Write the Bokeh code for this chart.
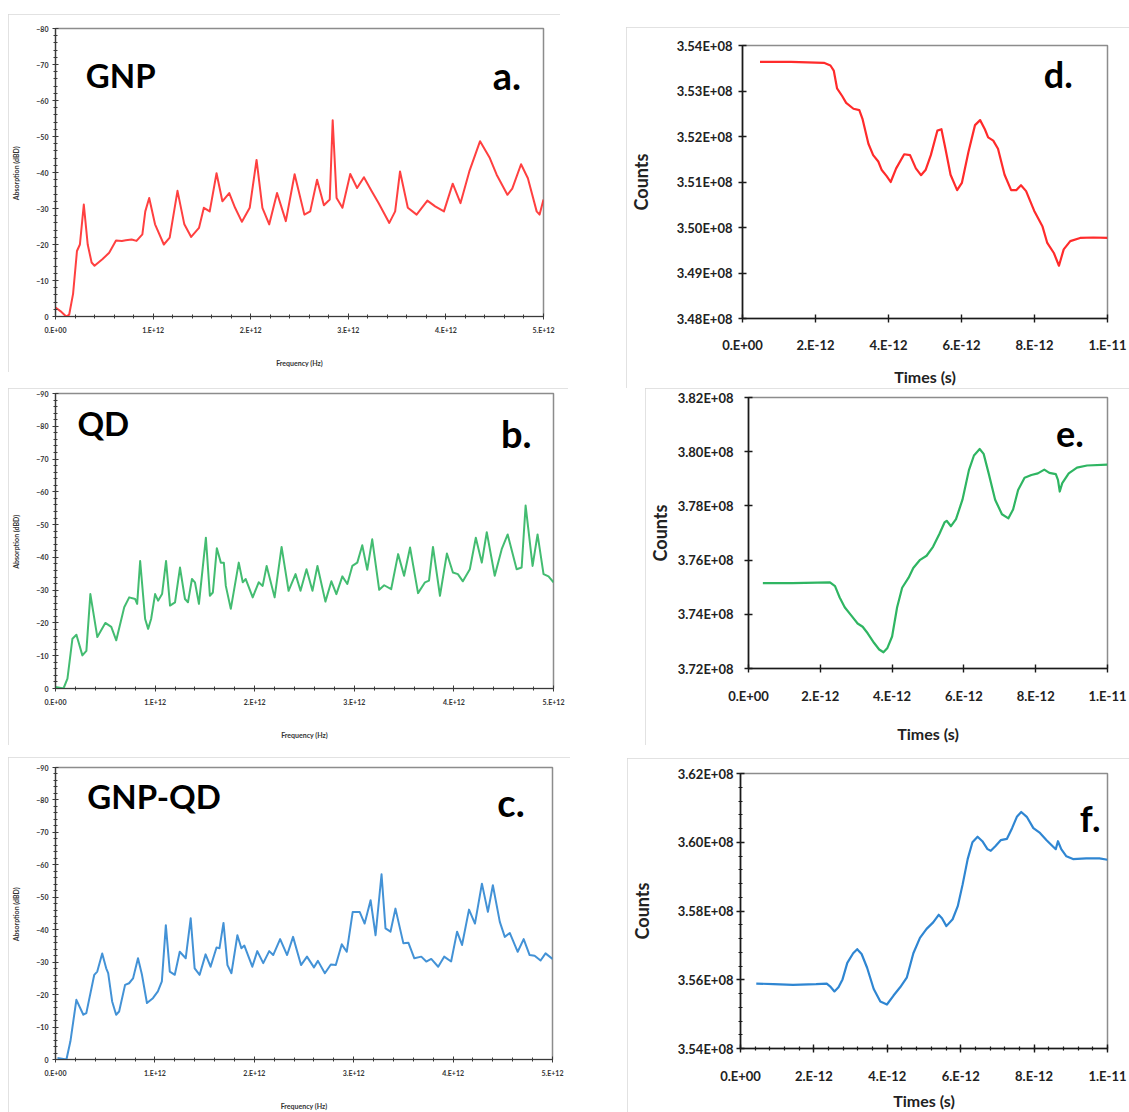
import numpy as np
from bokeh.plotting import figure
from bokeh.layouts import row, column
from bokeh.models import FixedTicker, CustomJSTickFormatter, Range1d, Label, Spacer
from bokeh.embed import file_html
from bokeh.resources import INLINE

# ---------------- absorption spectra (frequency in THz, absorption in dBD) ----------------
gnp_freq_thz = [0.00, 0.05, 0.11, 0.14, 0.18, 0.22, 0.25, 0.29, 0.33, 0.37, 0.40, 0.48, 0.55, 0.62,
                0.68, 0.72, 0.78, 0.83, 0.89, 0.92, 0.96, 1.02, 1.11, 1.17, 1.25, 1.32, 1.39, 1.47,
                1.52, 1.58, 1.65, 1.71, 1.78, 1.84, 1.91, 1.99, 2.06, 2.12, 2.19, 2.27, 2.36, 2.45,
                2.55, 2.61, 2.68, 2.75, 2.81, 2.84, 2.88, 2.94, 3.02, 3.09, 3.16, 3.24, 3.31, 3.42,
                3.48, 3.53, 3.61, 3.70, 3.81, 3.89, 3.98, 4.07, 4.15, 4.24, 4.35, 4.45, 4.52, 4.63,
                4.68, 4.77, 4.84, 4.93, 4.96, 5.00]
gnp_absorption = [-2.5, -1.5, 0.0, -0.5, -6.3, -18.2, -20.0, -31.1, -20.0, -15.0, -14.1, -15.9, -17.7, -21.1,
                  -21.0, -21.2, -21.4, -21.0, -22.8, -29.2, -32.9, -25.6, -20.0, -21.9, -34.9, -25.6, -22.1, -24.6,
                  -30.2, -29.2, -39.8, -32.0, -34.3, -30.2, -26.3, -30.2, -43.5, -30.2, -25.6, -34.3, -26.5, -39.5,
                  -28.3, -29.2, -38.0, -30.9, -32.5, -54.5, -32.9, -30.2, -39.6, -35.7, -38.7, -34.8, -31.5, -26.0,
                  -29.2, -40.3, -30.2, -28.3, -32.2, -30.6, -29.2, -36.9, -31.5, -40.3, -48.7, -44.0, -39.4, -33.8,
                  -35.5, -42.3, -38.4, -29.2, -28.3, -32.5]

qd_freq_thz = [0.00, 0.08, 0.12, 0.17, 0.21, 0.27, 0.31, 0.35, 0.42, 0.50, 0.56, 0.61, 0.69, 0.74, 0.80,
               0.82, 0.85, 0.90, 0.93, 0.96, 1.00, 1.03, 1.07, 1.11, 1.15, 1.20, 1.25, 1.30, 1.33, 1.37,
               1.40, 1.44, 1.51, 1.55, 1.58, 1.62, 1.66, 1.69, 1.71, 1.76, 1.84, 1.88, 1.91, 1.98, 2.04,
               2.08, 2.12, 2.20, 2.27, 2.34, 2.41, 2.46, 2.52, 2.58, 2.63, 2.71, 2.77, 2.82, 2.88, 2.93,
               2.98, 3.03, 3.08, 3.13, 3.18, 3.25, 3.30, 3.37, 3.44, 3.50, 3.56, 3.64, 3.71, 3.75, 3.79,
               3.86, 3.93, 3.99, 4.04, 4.09, 4.16, 4.22, 4.28, 4.33, 4.41, 4.48, 4.54, 4.63, 4.68, 4.72,
               4.79, 4.84, 4.90, 4.95, 5.00]
qd_absorption = [-0.5, 0.0, -3.0, -15.2, -16.4, -10.1, -11.5, -28.8, -15.7, -20.0, -18.8, -14.7, -24.8, -27.8, -27.3,
                 -25.8, -38.9, -21.2, -18.2, -21.2, -28.8, -26.8, -28.8, -38.9, -25.3, -26.3, -36.9, -27.3, -26.3, -33.4,
                 -32.4, -25.8, -46.0, -28.3, -29.3, -42.8, -38.4, -38.4, -31.3, -24.3, -38.4, -32.4, -33.4, -27.8, -32.4,
                 -31.3, -37.4, -27.8, -43.2, -29.8, -34.9, -29.8, -36.4, -29.8, -37.4, -26.5, -32.7, -28.8, -34.2, -31.9,
                 -37.4, -38.4, -43.7, -36.2, -45.5, -30.1, -31.5, -30.3, -41.0, -34.4, -43.0, -29.1, -32.4, -32.9, -43.2,
                 -28.3, -41.2, -35.4, -34.9, -32.7, -36.4, -46.0, -38.4, -47.7, -34.4, -42.5, -47.0, -36.4, -36.9, -55.8,
                 -37.4, -47.0, -34.9, -34.2, -32.4]

gnpqd_freq_thz = [0.02, 0.11, 0.15, 0.21, 0.28, 0.31, 0.39, 0.42, 0.47, 0.51, 0.53, 0.57, 0.61, 0.64, 0.70,
                  0.74, 0.78, 0.83, 0.87, 0.92, 0.98, 1.03, 1.07, 1.11, 1.15, 1.20, 1.25, 1.31, 1.36, 1.40,
                  1.45, 1.51, 1.56, 1.62, 1.65, 1.69, 1.73, 1.77, 1.83, 1.87, 1.90, 1.98, 2.03, 2.09, 2.15,
                  2.19, 2.26, 2.33, 2.39, 2.47, 2.53, 2.60, 2.64, 2.71, 2.77, 2.82, 2.88, 2.93, 2.99, 3.06,
                  3.11, 3.17, 3.22, 3.28, 3.32, 3.37, 3.42, 3.50, 3.55, 3.61, 3.68, 3.73, 3.78, 3.85, 3.91,
                  3.98, 4.04, 4.09, 4.16, 4.22, 4.29, 4.35, 4.40, 4.47, 4.52, 4.57, 4.65, 4.71, 4.77, 4.82,
                  4.88, 4.93, 5.00]
gnpqd_absorption = [-0.5, 0.0, -5.6, -18.4, -13.8, -14.3, -26.1, -27.1, -32.7, -28.1, -26.6, -17.9, -13.8, -14.8, -23.0,
                    -23.5, -25.0, -31.2, -26.1, -17.4, -18.9, -21.0, -24.1, -41.4, -27.1, -26.1, -33.2, -31.2, -43.5, -28.1,
                    -26.1, -32.4, -28.6, -34.5, -34.3, -42.1, -29.1, -26.6, -38.3, -34.3, -35.1, -28.6, -33.4, -29.7, -33.4,
                    -32.2, -37.1, -32.2, -37.8, -29.1, -31.7, -28.4, -30.4, -26.6, -29.3, -29.1, -35.5, -33.2, -45.5, -45.5,
                    -41.9, -49.1, -38.3, -57.1, -40.4, -39.4, -46.5, -35.8, -36.0, -31.2, -31.7, -30.2, -31.0, -28.6, -31.7,
                    -30.2, -39.4, -35.3, -46.2, -41.9, -54.2, -45.5, -53.7, -42.4, -37.8, -39.0, -33.2, -37.1, -32.2, -32.0,
                    -30.5, -32.7, -31.0]

# ---------------- time traces (time in ps, counts in millions) ----------------
gnp_time_ps = [0.48, 1.33, 2.23, 2.41, 2.50, 2.59, 2.73, 2.84, 3.04, 3.20, 3.29, 3.45, 3.58, 3.72, 3.81, 3.95,
               4.06, 4.21, 4.43, 4.59, 4.75, 4.89, 5.02, 5.16, 5.34, 5.45, 5.56, 5.70, 5.88, 6.01, 6.19, 6.37,
               6.51, 6.64, 6.73, 6.87, 7.00, 7.18, 7.36, 7.50, 7.63, 7.77, 7.99, 8.22, 8.35, 8.53, 8.67, 8.80,
               8.98, 9.25, 9.61, 10.0]
gnp_counts_m = [353.64, 353.64, 353.62, 353.56, 353.45, 353.06, 352.89, 352.74, 352.61, 352.58, 352.38, 351.84,
                351.59, 351.45, 351.27, 351.13, 351.00, 351.30, 351.61, 351.59, 351.30, 351.15, 351.27, 351.59,
                352.13, 352.16, 351.73, 351.16, 350.82, 350.98, 351.66, 352.25, 352.36, 352.16, 351.98, 351.91,
                351.73, 351.16, 350.82, 350.82, 350.93, 350.80, 350.37, 350.02, 349.66, 349.44, 349.16, 349.52,
                349.70, 349.77, 349.78, 349.77]

qd_time_ps = [0.40, 1.22, 2.27, 2.41, 2.54, 2.68, 2.86, 3.04, 3.18, 3.32, 3.50, 3.64, 3.76, 3.87, 4.00, 4.14,
              4.28, 4.46, 4.59, 4.78, 4.96, 5.14, 5.32, 5.46, 5.52, 5.64, 5.78, 5.96, 6.14, 6.28, 6.44, 6.55,
              6.69, 6.87, 7.06, 7.24, 7.37, 7.51, 7.69, 7.88, 8.06, 8.24, 8.38, 8.56, 8.62, 8.67, 8.74, 8.92,
              9.15, 9.43, 10.0]
qd_counts_m = [375.15, 375.15, 375.18, 375.04, 374.62, 374.26, 373.96, 373.66, 373.54, 373.30, 372.94, 372.70,
               372.60, 372.76, 373.18, 374.26, 374.98, 375.35, 375.71, 376.01, 376.16, 376.49, 376.97, 377.39,
               377.45, 377.25, 377.51, 378.23, 379.32, 379.86, 380.10, 379.92, 379.20, 378.23, 377.69, 377.54,
               377.87, 378.59, 379.04, 379.14, 379.20, 379.34, 379.22, 379.17, 378.96, 378.53, 378.84, 379.20,
               379.41, 379.49, 379.52]

gnpqd_time_ps = [0.43, 0.90, 1.43, 2.06, 2.35, 2.44, 2.56, 2.67, 2.78, 2.91, 3.07, 3.18, 3.30, 3.45, 3.63, 3.81,
                 3.99, 4.17, 4.35, 4.53, 4.71, 4.89, 5.07, 5.25, 5.40, 5.49, 5.61, 5.78, 5.92, 6.05, 6.19, 6.32,
                 6.46, 6.59, 6.73, 6.82, 6.95, 7.09, 7.26, 7.40, 7.53, 7.65, 7.80, 7.98, 8.16, 8.34, 8.52, 8.59,
                 8.65, 8.74, 8.88, 9.06, 9.42, 9.78, 10.0]
gnpqd_counts_m = [355.89, 355.87, 355.85, 355.87, 355.89, 355.81, 355.66, 355.78, 356.01, 356.49, 356.77, 356.89,
                  356.75, 356.35, 355.73, 355.37, 355.28, 355.54, 355.78, 356.06, 356.77, 357.22, 357.48, 357.67,
                  357.89, 357.79, 357.56, 357.76, 358.14, 358.76, 359.51, 360.00, 360.16, 360.03, 359.80, 359.75,
                  359.89, 360.06, 360.10, 360.41, 360.74, 360.88, 360.74, 360.41, 360.27, 360.06, 359.87, 359.80,
                  360.03, 359.80, 359.59, 359.51, 359.53, 359.53, 359.49]

RED = "#ff2b2b"
GREEN = "#2fb562"
BLUE = "#2f86d2"
FONT = "Lato"


def sci_fmt(digits):
    # Excel-like scientific labels: 1.E+12, 3.54E+08
    return CustomJSTickFormatter(args=dict(d=digits), code="""
const parts = tick.toExponential(d).toUpperCase().split("E");
const e = parseInt(parts[1], 10);
const mant = d === 0 ? parts[0] + "." : parts[0];
return mant + "E" + (e < 0 ? "-" : "+") + String(Math.abs(e)).padStart(2, "0");
""")


def spectrum_panel(freq_thz, absorption, color, size, borders, y_floor,
                   name, name_xy, letter, letter_xy):
    w, h = size
    bl, br, bt, bb = borders
    p = figure(width=w, height=h, output_backend="svg", toolbar_location=None,
               x_range=Range1d(0, 5e12), y_range=Range1d(0, y_floor),
               min_border_left=bl, min_border_right=br, min_border_top=bt, min_border_bottom=bb,
               background_fill_color="white", border_fill_color="white")
    p.styles = {"outline": "1px solid #d9d9d9", "outline-offset": "-1px"}
    p.grid.visible = False
    p.outline_line_color = "#8c8c8c"
    p.outline_line_width = 1.5

    p.line(np.array(freq_thz) * 1e12, absorption, line_color=color, line_width=2.0,
           line_join="round", line_alpha=0.9)

    p.xaxis.ticker = FixedTicker(ticks=[i * 1e12 for i in range(6)],
                                 minor_ticks=list(np.round(np.arange(0, 5.01, 0.2), 2) * 1e12))
    p.xaxis.formatter = sci_fmt(0)
    p.yaxis.ticker = FixedTicker(ticks=list(range(y_floor, 1, 10)),
                                 minor_ticks=list(range(y_floor, 1, 2)))
    p.xaxis.axis_label = "Frequency (Hz)"
    p.yaxis.axis_label = "Absorption  (dBD)"
    for ax in (p.xaxis, p.yaxis):
        ax.axis_line_color = "#3a3a3a"
        ax.axis_line_width = 1.2
        ax.major_tick_line_color = "#3a3a3a"
        ax.minor_tick_line_color = "#3a3a3a"
        ax.major_tick_in = 3
        ax.major_tick_out = 3
        ax.minor_tick_in = 2
        ax.minor_tick_out = 2
        ax.major_label_text_font = FONT
        ax.major_label_text_font_size = "7px"
        ax.major_label_text_font_style = "bold"
        ax.major_label_text_color = "#333333"
        ax.axis_label_text_font = FONT
        ax.axis_label_text_font_size = "7px"
        ax.axis_label_text_font_style = "bold"
        ax.axis_label_text_color = "#333333"
    p.xaxis.major_label_standoff = 6
    p.xaxis.axis_label_standoff = 22
    p.yaxis.major_label_standoff = 4
    p.yaxis.axis_label_standoff = 13

    p.add_layout(Label(x=name_xy[0] * 1e12, y=name_xy[1], text=name, text_font=FONT,
                       text_font_style="bold", text_font_size="33px", text_color="black",
                       text_align="left", text_baseline="alphabetic"))
    p.add_layout(Label(x=letter_xy[0] * 1e12, y=letter_xy[1], text=letter, text_font=FONT,
                       text_font_style="bold", text_font_size="38px", text_color="black",
                       text_align="right", text_baseline="alphabetic"))
    return p


def trace_panel(time_ps, counts_m, color, size, borders, y_lo, y_hi, y_step, minor,
                letter, letter_xy, tl_std, yl_std, xl_std, al_std):
    w, h = size
    bl, br, bt, bb = borders
    p = figure(width=w, height=h, output_backend="svg", toolbar_location=None,
               x_range=Range1d(0, 1e-11), y_range=Range1d(y_lo * 1e6, y_hi * 1e6),
               min_border_left=bl, min_border_right=br, min_border_top=bt, min_border_bottom=bb,
               background_fill_color="white", border_fill_color="white")
    p.styles = {"outline": "1px solid #d9d9d9", "outline-offset": "-1px"}
    p.grid.visible = False
    p.outline_line_color = "#8c8c8c"
    p.outline_line_width = 1.5

    p.line(np.array(time_ps) * 1e-12, np.array(counts_m) * 1e6, line_color=color, line_width=2.2,
           line_join="round")

    xmaj = [i * 2e-12 for i in range(5)] + [1e-11]
    ymaj = [round(v, 2) * 1e6 for v in np.arange(y_lo, y_hi + 0.001, y_step)]
    if minor:
        xmin = list(np.arange(0, 10.01, 0.4) * 1e-12)
        ymin = list(np.arange(y_lo, y_hi + 0.001, y_step / 5) * 1e6)
    else:
        xmin, ymin = [], []
    p.xaxis.ticker = FixedTicker(ticks=xmaj, minor_ticks=xmin)
    p.yaxis.ticker = FixedTicker(ticks=ymaj, minor_ticks=ymin)
    p.xaxis.formatter = sci_fmt(0)
    p.yaxis.formatter = sci_fmt(2)
    p.xaxis.axis_label = "Times (s)"
    p.yaxis.axis_label = "Counts"
    for ax in (p.xaxis, p.yaxis):
        ax.axis_line_color = "#1a1a1a"
        ax.axis_line_width = 1.6
        ax.major_tick_line_color = "#1a1a1a"
        ax.major_tick_line_width = 1.4
        ax.minor_tick_line_color = "#1a1a1a"
        ax.minor_tick_line_width = 1.2
        ax.major_tick_in = 4
        ax.major_tick_out = 4
        ax.minor_tick_in = 2
        ax.minor_tick_out = 2
        ax.major_label_text_font = FONT
        ax.major_label_text_font_size = "13px"
        ax.major_label_text_font_style = "bold"
        ax.major_label_text_color = "#222222"
        ax.axis_label_text_font = FONT
        ax.axis_label_text_font_style = "bold"
        ax.axis_label_text_color = "#222222"
    p.xaxis.axis_label_text_font_size = "16px"
    p.yaxis.axis_label_text_font_size = "18px"
    p.xaxis.major_label_standoff = xl_std
    p.xaxis.axis_label_standoff = al_std
    p.yaxis.major_label_standoff = tl_std
    p.yaxis.axis_label_standoff = yl_std

    p.add_layout(Label(x=letter_xy[0] * 1e-12, y=letter_xy[1] * 1e6, text=letter, text_font=FONT,
                       text_font_style="bold", text_font_size="36px", text_color="black",
                       text_align="right", text_baseline="alphabetic"))
    return p


pa = spectrum_panel(gnp_freq_thz, gnp_absorption, RED, (552, 358), (47, 17, 14, 56), -80,
                    "GNP", (0.31, -67.2), "a.", (4.77, -67.2))
pb = spectrum_panel(qd_freq_thz, qd_absorption, GREEN, (560, 357), (47, 15, 5, 57), -90,
                    "QD", (0.22, -81.1), "b.", (4.78, -77.8))
pc = spectrum_panel(gnpqd_freq_thz, gnpqd_absorption, BLUE, (562, 355), (47, 18, 10, 53), -90,
                    "GNP-QD", (0.32, -81.1), "c.", (4.72, -79.5))

pd = trace_panel(gnp_time_ps, gnp_counts_m, RED, (503, 361), (111, 22, 18, 64), 348, 354, 1, False,
                 "d.", (9.05, 353.38), 6, 22, 14, 11)
pe = trace_panel(qd_time_ps, qd_counts_m, GREEN, (484, 357), (98, 22, 9, 72), 372, 382, 2, False,
                 "e.", (9.34, 380.66), 11, 4, 15, 17)
pf = trace_panel(gnpqd_time_ps, gnpqd_counts_m, BLUE, (502, 354), (110, 22, 15, 56), 354, 362, 2, True,
                 "f.", (9.81, 360.70), 3, 22, 15, 4)

left = column(Spacer(width=8, height=14),
              row(Spacer(width=8, height=1), pa, spacing=0),
              Spacer(width=8, height=16),
              row(Spacer(width=8, height=1), pb, spacing=0),
              Spacer(width=8, height=12),
              row(Spacer(width=8, height=1), pc, spacing=0),
              spacing=0)
right = column(Spacer(width=8, height=27),
               row(Spacer(width=56, height=1), pd, spacing=0),
               row(Spacer(width=75, height=1), pe, spacing=0),
               Spacer(width=8, height=13),
               row(Spacer(width=57, height=1), pf, spacing=0),
               spacing=0)
layout = row(left, right, spacing=0)

with open("out.html", "w") as fh:
    fh.write(file_html(layout, INLINE))
